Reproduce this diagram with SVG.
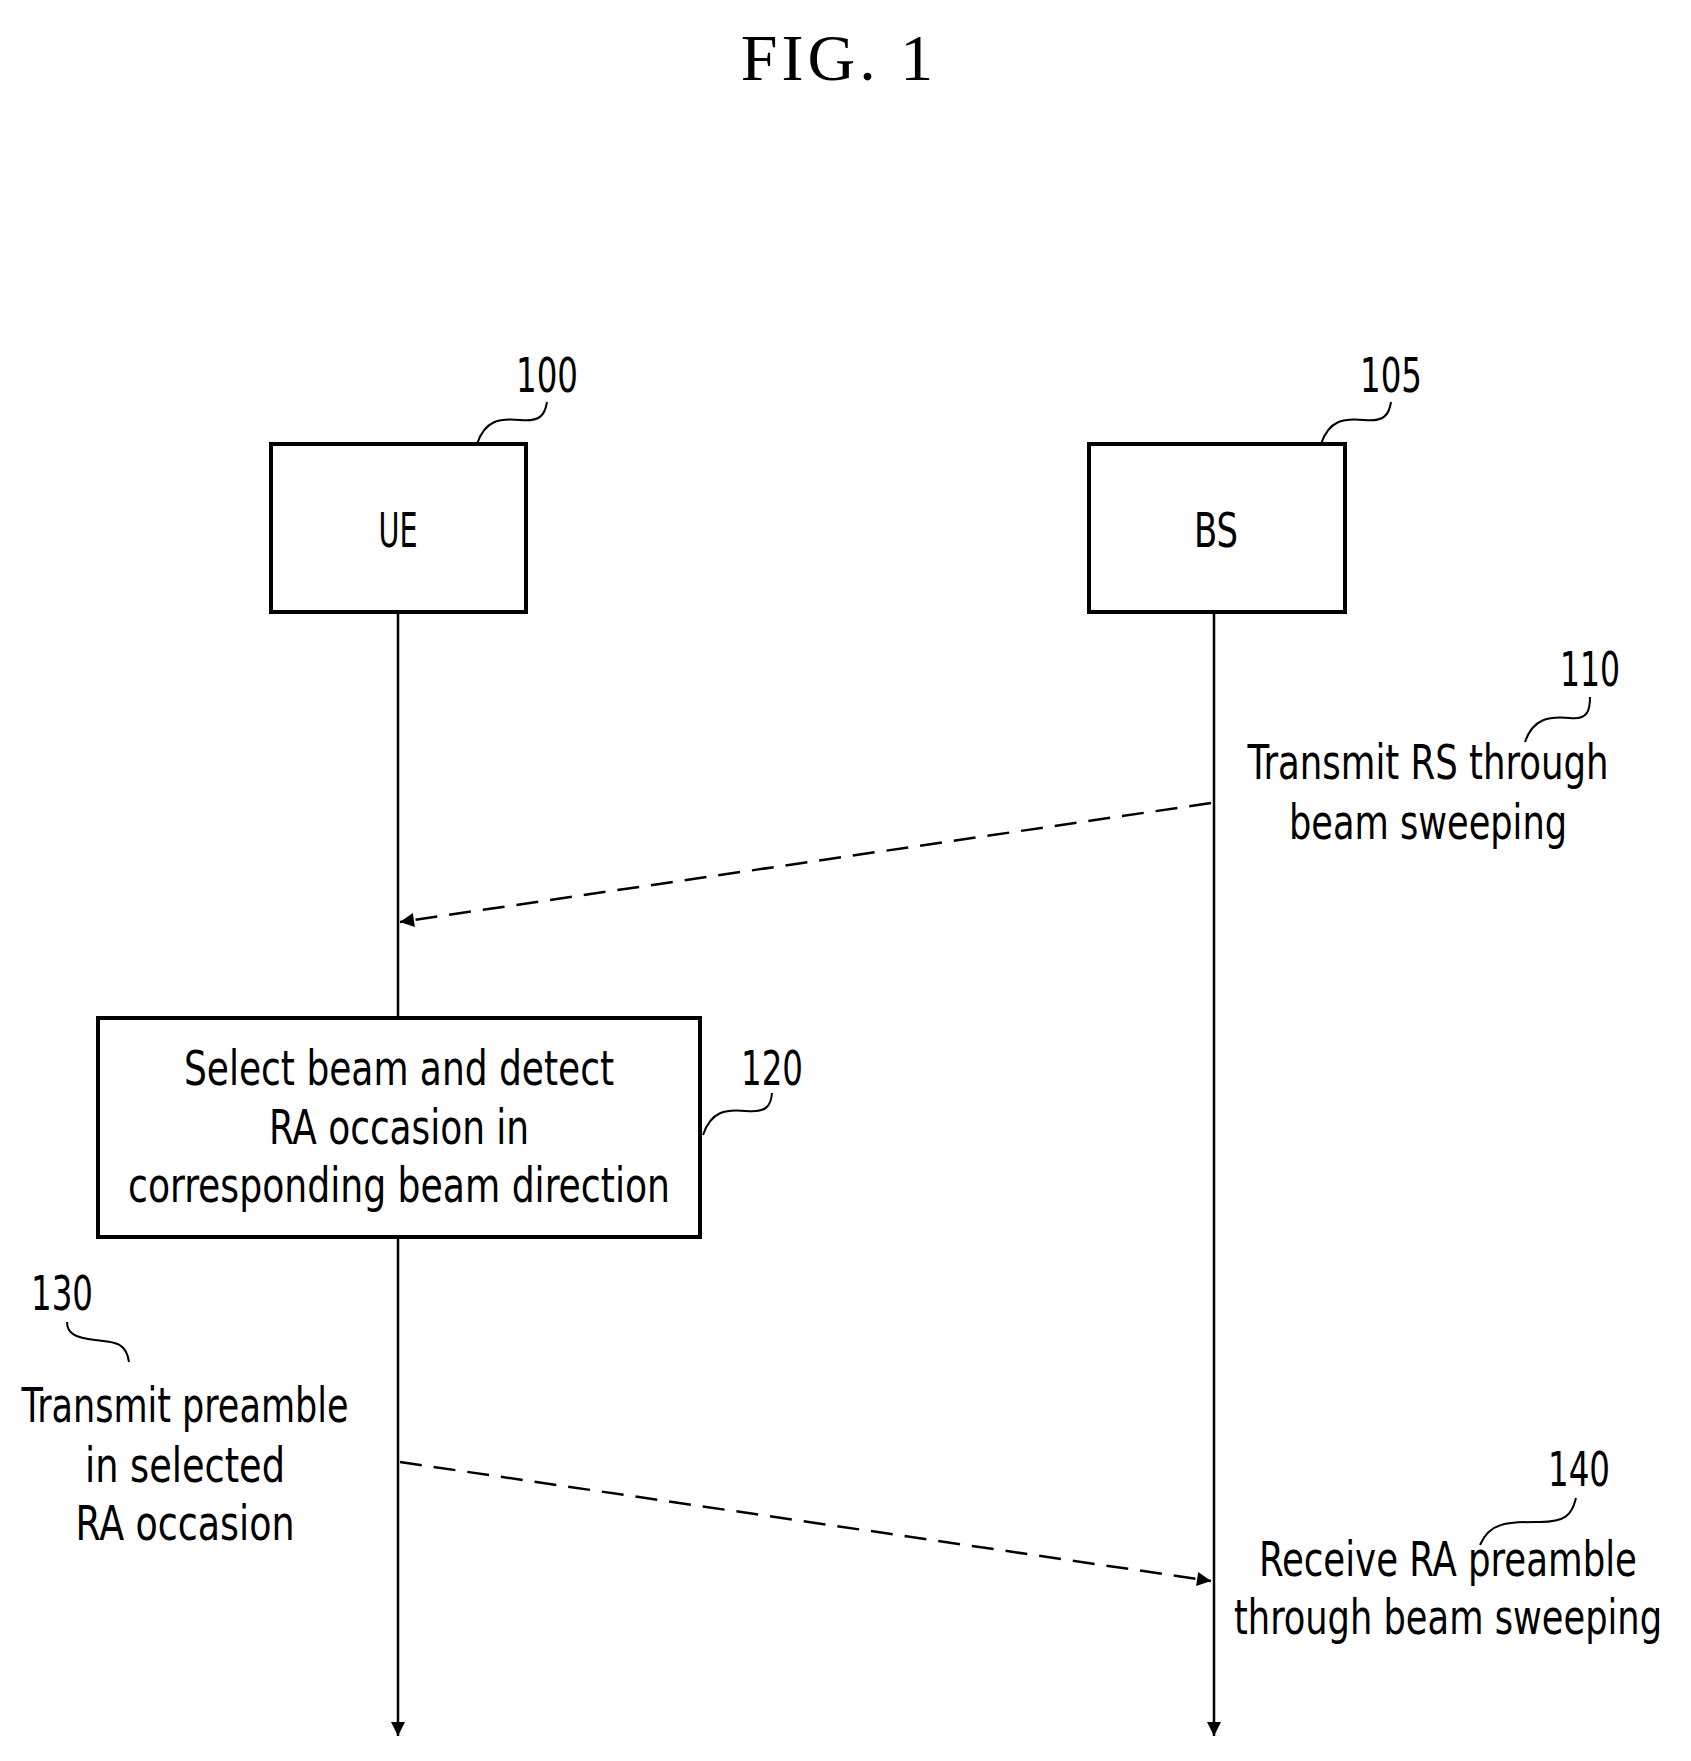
<svg xmlns="http://www.w3.org/2000/svg" width="1691" height="1761" viewBox="0 0 1691 1761">
<style>
.t{font-family:"DejaVu Sans Condensed","Liberation Sans",sans-serif;font-size:48px;fill:#000;text-anchor:middle}
.box{fill:#fff;stroke:#000;stroke-width:4}
.life{stroke:#000;stroke-width:2.5;fill:none}
.lead{stroke:#000;stroke-width:2;fill:none}
.msg{stroke:#000;stroke-width:2.5;fill:none;stroke-dasharray:22 12}
</style>
<defs>
<marker id="ah2" viewBox="0 0 10 10" refX="10" refY="5" markerWidth="18" markerHeight="14" markerUnits="userSpaceOnUse" orient="auto"><path d="M0,0 L10,5 L0,10 z" fill="#000"/></marker>
</defs>
<text x="839" y="80" style="font-family:'Liberation Serif',serif;font-size:66px;text-anchor:middle;letter-spacing:4px">FIG. 1</text>
<g id="connectors">
<line class="life" x1="398" y1="612" x2="398" y2="1018"/>
<line class="life" x1="398" y1="1237" x2="398" y2="1736" marker-end="url(#ah2)"/>
<line class="life" x1="1214" y1="612" x2="1214" y2="1736" marker-end="url(#ah2)"/>
<line class="msg" x1="1211" y1="803" x2="400" y2="922" marker-end="url(#ah2)"/>
<line class="msg" x1="400" y1="1462" x2="1211" y2="1581" marker-end="url(#ah2)"/>
<path class="lead" d="M477,444 C485,420 500,418 520,420 C540,422 545,415 547,402"/>
<path class="lead" d="M1321,444 C1329,420 1344,418 1364,420 C1384,422 1389,415 1391,402"/>
<path class="lead" d="M1525,742 C1533,718 1550,716 1570,718 C1588,720 1590,710 1590,697"/>
<path class="lead" d="M703,1135 C711,1111 726,1109 746,1111 C766,1113 771,1106 772,1093"/>
<path class="lead" d="M129,1362 C126,1340 110,1342 95,1340 C75,1338 67,1333 67,1322"/>
<path class="lead" d="M1480,1545 C1490,1521 1510,1522 1540,1522 C1565,1522 1572,1515 1576,1498"/>
</g>
<g id="ue"><rect class="box" x="271" y="444" width="255" height="168"/><text class="t" x="398" y="547" textLength="39" lengthAdjust="spacingAndGlyphs">UE</text></g>
<g id="bs"><rect class="box" x="1089" y="444" width="256" height="168"/><text class="t" x="1216" y="547" textLength="44" lengthAdjust="spacingAndGlyphs">BS</text></g>
<g id="n120"><rect class="box" x="98" y="1018" width="602" height="219"/>
<text class="t" x="399" y="1085" textLength="430" lengthAdjust="spacingAndGlyphs">Select beam and detect</text>
<text class="t" x="399" y="1144" textLength="260" lengthAdjust="spacingAndGlyphs">RA occasion in</text>
<text class="t" x="399" y="1202" textLength="542" lengthAdjust="spacingAndGlyphs">corresponding beam direction</text></g>
<g id="labels">
<text class="t" x="547" y="392" textLength="62" lengthAdjust="spacingAndGlyphs">100</text>
<text class="t" x="1391" y="392" textLength="62" lengthAdjust="spacingAndGlyphs">105</text>
<text class="t" x="1590" y="686" textLength="60" lengthAdjust="spacingAndGlyphs">110</text>
<text class="t" x="772" y="1085" textLength="62" lengthAdjust="spacingAndGlyphs">120</text>
<text class="t" x="62" y="1310" textLength="62" lengthAdjust="spacingAndGlyphs">130</text>
<text class="t" x="1579" y="1486" textLength="62" lengthAdjust="spacingAndGlyphs">140</text>
<text class="t" x="1428" y="779" textLength="361" lengthAdjust="spacingAndGlyphs">Transmit RS through</text>
<text class="t" x="1428" y="839" textLength="278" lengthAdjust="spacingAndGlyphs">beam sweeping</text>
<text class="t" x="185" y="1422" textLength="327" lengthAdjust="spacingAndGlyphs">Transmit preamble</text>
<text class="t" x="185" y="1482" textLength="200" lengthAdjust="spacingAndGlyphs">in selected</text>
<text class="t" x="185" y="1540" textLength="219" lengthAdjust="spacingAndGlyphs">RA occasion</text>
<text class="t" x="1448" y="1576" textLength="378" lengthAdjust="spacingAndGlyphs">Receive RA preamble</text>
<text class="t" x="1448" y="1634" textLength="428" lengthAdjust="spacingAndGlyphs">through beam sweeping</text>
</g>
</svg>
